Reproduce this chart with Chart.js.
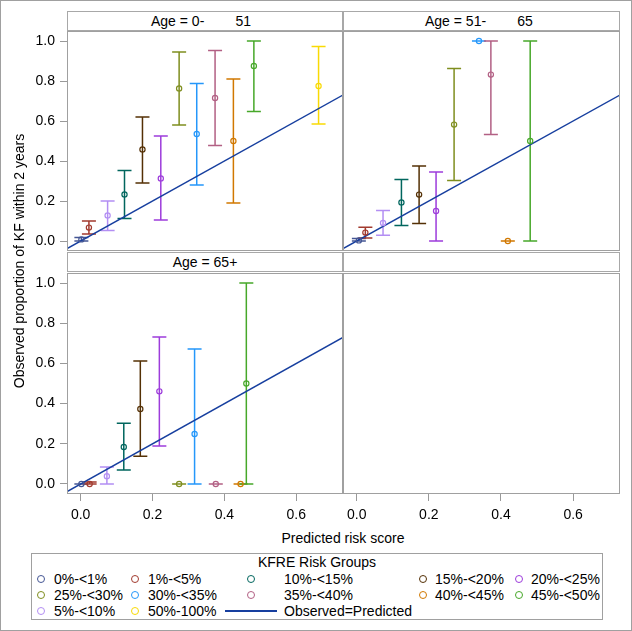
<!DOCTYPE html>
<html>
<head>
<meta charset="utf-8">
<script src="https://cdn.jsdelivr.net/npm/chart.js@4"></script>
<style>
  body { margin: 0; background: #fff; font-family: 'Liberation Sans', Arial, sans-serif; font-size: 14px; color: #000; }
  #wrap { position: relative; width: 632px; height: 631px; overflow: hidden; }
  #wrap > * { position: absolute; box-sizing: border-box; }
  .outer { left: 0; top: 0; width: 632px; height: 631px; border: 1px solid #a0a0a0; }
  .head { height: 20px; border: 1px solid #a8a8a8; line-height: 18px; white-space: pre; }
  .legbox { left: 31px; top: 553px; width: 572px; height: 67px; border: 1px solid #a0a0a0; }
  .dot { width: 8px; height: 8px; border: 1px solid; border-radius: 50%; }
  .lbl { line-height: 16px; white-space: pre; }
</style>
</head>
<body>
<div id="wrap">
  <div class="outer"></div>
  <div class="head" id="h1" style="left:67px;top:11px;width:276px;padding-left:83px"></div>
  <div class="head" id="h2" style="left:343px;top:11px;width:277px;padding-left:81px"></div>
  <div class="head" id="h3" style="left:67px;top:252px;width:276px;text-align:center"></div>
  <div class="head" style="left:343px;top:252px;width:277px"></div>
  <canvas id="c1" width="320" height="220" style="left:23px;top:31px"></canvas>
  <canvas id="c2" width="277" height="220" style="left:343px;top:31px"></canvas>
  <canvas id="c3" width="320" height="251" style="left:23px;top:273px"></canvas>
  <canvas id="c4" width="277" height="251" style="left:343px;top:273px"></canvas>
  <div class="lbl" style="left:-111px;top:253px;width:260px;text-align:center;transform:rotate(-90deg)">Observed proportion of KF within 2 years</div>
  <div class="lbl" style="left:243px;top:530px;width:200px;text-align:center">Predicted risk score</div>
  <div class="legbox"></div>
  <div class="lbl" style="left:31px;top:554px;width:572px;text-align:center">KFRE Risk Groups</div>
</div>
<script>
// risk groups, in the order SAS sorts them
const groups = ['0%-<1%', '1%-<5%', '10%-<15%', '15%-<20%', '20%-<25%', '25%-<30%',
  '30%-<35%', '35%-<40%', '40%-<45%', '45%-<50%', '5%-<10%', '50%-100%'];
const palette = ['#445694', '#A23A2E', '#01665E', '#543005', '#9D3CDB', '#7F8E1F',
  '#2597FA', '#B26084', '#D17800', '#47A82A', '#B38EF3', '#F9DA04'];
const fitColor = '#173f9f';

const panelTitles = ['Age = 0-        51', 'Age = 51-        65', 'Age = 65+'];

// Age 0-51
const young_pred = [0.002, 0.023, 0.122, 0.172, 0.223, 0.274, 0.323, 0.374, 0.425, 0.482, 0.075, 0.662];
const young_obs  = [0.008, 0.067, 0.233, 0.458, 0.313, 0.763, 0.535, 0.715, 0.500, 0.875, 0.128, 0.775];
const young_lo   = [0.000, 0.035, 0.112, 0.290, 0.105, 0.580, 0.280, 0.477, 0.190, 0.647, 0.052, 0.585];
const young_hi   = [0.017, 0.100, 0.353, 0.620, 0.525, 0.945, 0.787, 0.952, 0.810, 1.000, 0.200, 0.972];

// Age 51-65
const mid_pred = [0.006, 0.024, 0.124, 0.173, 0.220, 0.270, 0.339, 0.372, 0.419, 0.481, 0.073, null];
const mid_obs  = [0.003, 0.042, 0.193, 0.232, 0.150, 0.582, 1.000, 0.832, 0.000, 0.500, 0.090, null];
const mid_lo   = [0.000, 0.015, 0.077, 0.088, 0.000, 0.302, 1.000, 0.533, 0.000, 0.000, 0.029, null];
const mid_hi   = [0.012, 0.069, 0.307, 0.375, 0.345, 0.862, 1.000, 1.000, 0.000, 1.000, 0.153, null];

// Age 65+
const old_pred = [0.002, 0.025, 0.120, 0.166, 0.219, 0.274, 0.317, 0.376, 0.445, 0.461, 0.073, null];
const old_obs  = [0.000, 0.000, 0.184, 0.373, 0.461, 0.000, 0.249, 0.000, 0.000, 0.500, 0.038, null];
const old_lo   = [0.000, 0.000, 0.070, 0.138, 0.189, 0.000, 0.000, 0.000, 0.000, 0.000, 0.000, null];
const old_hi   = [0.000, 0.010, 0.302, 0.612, 0.731, 0.000, 0.672, 0.000, 0.000, 1.000, 0.085, null];

const xTicks = [0, 0.2, 0.4, 0.6];
const yTicks = [0, 0.2, 0.4, 0.6, 0.8, 1.0];
const xRange = [-0.038, 0.73];
const yRange = [-0.05, 1.05];
const diagonal = [-0.1, 0.8];

Chart.defaults.font.family = "'Liberation Sans', Arial, sans-serif";
Chart.defaults.font.size = 14;
Chart.defaults.color = '#000';

['h1', 'h2', 'h3'].forEach((id, i) => { document.getElementById(id).textContent = panelTitles[i]; });

// vertical error bars with caps, placed through the chart scales
const errorBars = {
  id: 'errorBars',
  beforeDatasetsDraw(chart) {
    const { ctx, scales: { x, y } } = chart;
    ctx.save();
    ctx.lineWidth = 1.5;
    chart.data.datasets.forEach(ds => {
      if (!ds.lo) return;
      ds.data.forEach((pt, i) => {
        const px = x.getPixelForValue(pt.x);
        const top = y.getPixelForValue(ds.hi[i]);
        const bot = y.getPixelForValue(ds.lo[i]);
        ctx.strokeStyle = ds.borderColor;
        ctx.beginPath();
        ctx.moveTo(px, top); ctx.lineTo(px, bot);
        ctx.moveTo(px - 7, top); ctx.lineTo(px + 7, top);
        ctx.moveTo(px - 7, bot); ctx.lineTo(px + 7, bot);
        ctx.stroke();
      });
    });
    ctx.restore();
  }
};

const frame = {
  id: 'frame',
  afterDraw(chart) {
    const a = chart.chartArea;
    const ctx = chart.ctx;
    ctx.save();
    ctx.strokeStyle = '#a0a0a0';
    ctx.lineWidth = 1;
    ctx.strokeRect(a.left + 0.5, a.top + 0.5, a.right - a.left - 1, a.bottom - a.top - 1);
    ctx.restore();
  }
};

function buildDatasets(pred, obs, lo, hi) {
  const sets = [];
  groups.forEach((g, i) => {
    if (pred[i] === null) return;
    sets.push({
      label: g,
      data: [{ x: pred[i], y: obs[i] }],
      lo: [lo[i]],
      hi: [hi[i]],
      borderColor: palette[i],
      backgroundColor: 'rgba(0,0,0,0)',
      pointRadius: 2.6,
      pointBorderWidth: 1.2
    });
  });
  sets.push({
    label: 'Observed=Predicted',
    type: 'line',
    data: diagonal.map(v => ({ x: v, y: v })),
    borderColor: fitColor,
    borderWidth: 1.5,
    pointRadius: 0
  });
  return sets;
}

function makeScales(showX, showY) {
  const grid = { drawOnChartArea: false, drawTicks: true, tickLength: 7, color: '#999' };
  return {
    x: {
      type: 'linear', min: xRange[0], max: xRange[1], display: showX,
      grid: grid, border: { display: false },
      ticks: { padding: 6, maxRotation: 0, callback: v => v.toFixed(1) },
      afterBuildTicks: s => { s.ticks = xTicks.map(v => ({ value: v })); },
      afterFit: s => { if (showX) { s.height = 30; s.paddingLeft = 0; s.paddingRight = 0; } }
    },
    y: {
      type: 'linear', min: yRange[0], max: yRange[1], display: showY,
      grid: grid, border: { display: false },
      ticks: { padding: 5, callback: v => v.toFixed(1) },
      afterBuildTicks: s => { s.ticks = yTicks.map(v => ({ value: v })); },
      afterFit: s => { if (showY) { s.width = 44; s.paddingTop = 0; s.paddingBottom = 0; } }
    }
  };
}

function makePanel(id, datasets, showX, showY) {
  return new Chart(document.getElementById(id), {
    type: 'scatter',
    data: { datasets: datasets },
    options: {
      responsive: false,
      animation: false,
      devicePixelRatio: 1,
      layout: { padding: 0, autoPadding: false },
      plugins: { legend: { display: false }, title: { display: false }, tooltip: { enabled: false } },
      scales: makeScales(showX, showY)
    },
    plugins: [errorBars, frame]
  });
}

makePanel('c1', buildDatasets(young_pred, young_obs, young_lo, young_hi), false, true);
makePanel('c2', buildDatasets(mid_pred, mid_obs, mid_lo, mid_hi), false, false);
makePanel('c3', buildDatasets(old_pred, old_obs, old_lo, old_hi), true, true);
makePanel('c4', [], true, false);

// legend, laid out like the SAS one
const wrap = document.getElementById('wrap');
const legCols = [{ dot: 41, text: 54 }, { dot: 135, text: 148 }, { dot: 251, text: 284 }, { dot: 423, text: 435 }, { dot: 519, text: 531 }];
const legRows = [579, 595, 611];
const legItems = groups.map((g, i) => ({ label: g, color: palette[i] }));
legItems.push({ label: 'Observed=Predicted', color: fitColor, line: true });
legItems.forEach((it, k) => {
  const col = legCols[k % 5];
  const y = legRows[Math.floor(k / 5)];
  const mark = document.createElement('div');
  if (it.line) {
    mark.style.cssText = `left:225px;top:${y - 1}px;width:52px;height:2px;background:${it.color}`;
  } else {
    mark.className = 'dot';
    mark.style.cssText = `left:${col.dot - 4}px;top:${y - 4}px;border-color:${it.color}`;
  }
  wrap.appendChild(mark);
  const txt = document.createElement('div');
  txt.className = 'lbl';
  txt.textContent = it.label;
  txt.style.left = col.text + 'px';
  txt.style.top = (y - 8) + 'px';
  wrap.appendChild(txt);
});
</script>
</body>
</html>
